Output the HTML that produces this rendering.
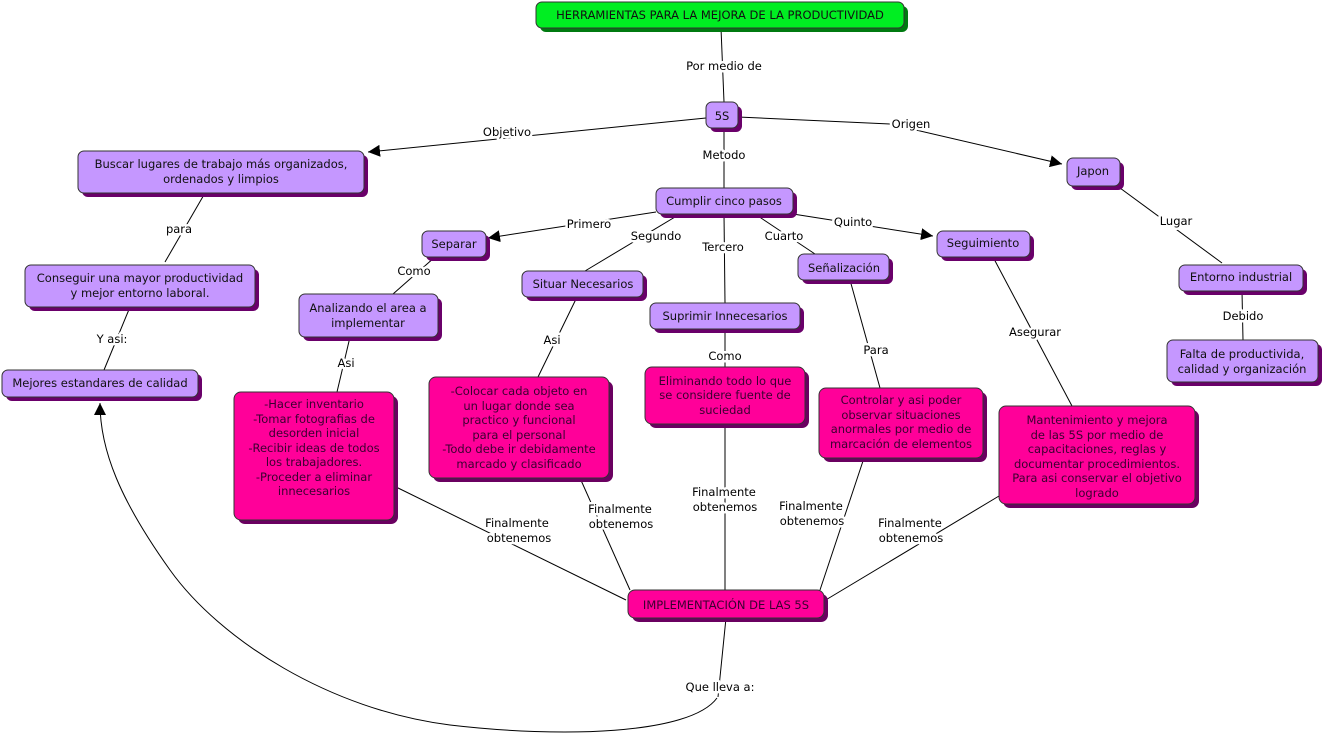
<!DOCTYPE html>
<html><head><meta charset="utf-8"><style>
html,body{margin:0;padding:0;background:#fff;}
svg{display:block;font-family:"DejaVu Sans","Liberation Sans",sans-serif;font-size:11.5px;}
.l{stroke:#000;stroke-width:1;fill:none;}
.t{fill:#000;text-anchor:middle;stroke:#fff;stroke-width:5px;paint-order:stroke;stroke-linejoin:round;}
.n{text-anchor:middle;fill:#111;}
.p{fill:#c597ff;stroke:#333;stroke-width:1;}
.ps{fill:#6a006a;}
.k{fill:#ff0099;stroke:#333;stroke-width:1;}
.ks{fill:#6a0060;}
.pk{text-anchor:middle;fill:#3a0030;}
</style></head><body>
<svg width="1325" height="735" viewBox="0 0 1325 735" xmlns="http://www.w3.org/2000/svg">
<defs><marker id="a" viewBox="0 0 10 10" refX="10" refY="5" markerWidth="12" markerHeight="12" markerUnits="userSpaceOnUse" orient="auto"><path d="M0,0 L10,5 L0,10 z" fill="#000"/></marker></defs>

<!-- connectors -->
<path class="l" d="M721 28 L724 102"/>
<path class="l" d="M706 118 L368 152" marker-end="url(#a)"/>
<path class="l" d="M738 117 L890 124 L1062 164" marker-end="url(#a)"/>
<path class="l" d="M724 128 L724 188"/>
<path class="l" d="M205 193 L165 262"/>
<path class="l" d="M130 307 L104 370"/>
<path class="l" d="M656 212 L488 238" marker-end="url(#a)"/>
<path class="l" d="M680 214 L585 271"/>
<path class="l" d="M724 214 L725 303"/>
<path class="l" d="M755 214 L815 254"/>
<path class="l" d="M793 214 L933 236" marker-end="url(#a)"/>
<path class="l" d="M1120 188 L1222 263"/>
<path class="l" d="M1242 291 L1243 340"/>
<path class="l" d="M435 257 L393 294"/>
<path class="l" d="M577 297 L538 377"/>
<path class="l" d="M350 337 L337 392"/>
<path class="l" d="M725 329 L725 367"/>
<path class="l" d="M850 280 L880 388"/>
<path class="l" d="M993 257 L1072 406"/>
<path class="l" d="M394 486 L626 600"/>
<path class="l" d="M580 478 L630 590"/>
<path class="l" d="M725 424 L725 590"/>
<path class="l" d="M864 458 L820 590"/>
<path class="l" d="M999 496 L824 601"/>
<path class="l" d="M726 618 L718 697"/>
<path class="l" d="M717 698 C690 735 560 738 450 725 C330 710 220 640 170 570 C120 500 100 450 100 403" marker-end="url(#a)"/>

<!-- link labels -->
<text class="t" x="724" y="70">Por medio de</text>
<text class="t" x="507" y="136">Objetivo</text>
<text class="t" x="911" y="128">Origen</text>
<text class="t" x="724" y="159">Metodo</text>
<text class="t" x="179" y="233">para</text>
<text class="t" x="112" y="343">Y asi:</text>
<text class="t" x="589" y="228">Primero</text>
<text class="t" x="656" y="240">Segundo</text>
<text class="t" x="723" y="251">Tercero</text>
<text class="t" x="784" y="240">Cuarto</text>
<text class="t" x="853" y="226">Quinto</text>
<text class="t" x="1176" y="225">Lugar</text>
<text class="t" x="1243" y="320">Debido</text>
<text class="t" x="414" y="275">Como</text>
<text class="t" x="552" y="344">Asi</text>
<text class="t" x="346" y="367">Asi</text>
<text class="t" x="725" y="360">Como</text>
<text class="t" x="876" y="354">Para</text>
<text class="t" x="1035" y="336">Asegurar</text>
<text class="t" x="517" y="527">Finalmente</text><text class="t" x="519" y="542">obtenemos</text>
<text class="t" x="620" y="513">Finalmente</text><text class="t" x="621" y="528">obtenemos</text>
<text class="t" x="724" y="496">Finalmente</text><text class="t" x="725" y="511">obtenemos</text>
<text class="t" x="811" y="510">Finalmente</text><text class="t" x="812" y="525">obtenemos</text>
<text class="t" x="910" y="527">Finalmente</text><text class="t" x="911" y="542">obtenemos</text>
<text class="t" x="720" y="691">Que lleva a:</text>

<!-- nodes -->
<rect x="540" y="6" width="368" height="26" rx="6" fill="#007a10"/>
<rect x="536" y="2" width="368" height="26" rx="6" fill="#00ee22" stroke="#333"/>
<text class="n" x="720" y="19">HERRAMIENTAS PARA LA MEJORA DE LA PRODUCTIVIDAD</text>

<g>
<rect class="ps" x="710" y="106" width="32" height="26" rx="6"/><rect class="p" x="706" y="102" width="32" height="26" rx="6"/>
<text class="n" x="722" y="120">5S</text>

<rect class="ps" x="82" y="155" width="286" height="42" rx="6"/><rect class="p" x="78" y="151" width="286" height="42" rx="6"/>
<text class="n" x="221" y="168">Buscar lugares de trabajo más organizados,</text><text class="n" x="221" y="183">ordenados y limpios</text>

<rect class="ps" x="1071" y="162" width="53" height="28" rx="6"/><rect class="p" x="1067" y="158" width="53" height="28" rx="6"/>
<text class="n" x="1093" y="175">Japon</text>

<rect class="ps" x="660" y="192" width="137" height="26" rx="6"/><rect class="p" x="656" y="188" width="137" height="26" rx="6"/>
<text class="n" x="724" y="205">Cumplir cinco pasos</text>

<rect class="ps" x="426" y="235" width="64" height="26" rx="6"/><rect class="p" x="422" y="231" width="64" height="26" rx="6"/>
<text class="n" x="454" y="248">Separar</text>

<rect class="ps" x="941" y="235" width="93" height="26" rx="6"/><rect class="p" x="937" y="231" width="93" height="26" rx="6"/>
<text class="n" x="983" y="247">Seguimiento</text>

<rect class="ps" x="802" y="258" width="91" height="26" rx="6"/><rect class="p" x="798" y="254" width="91" height="26" rx="6"/>
<text class="n" x="844" y="272">Señalización</text>

<rect class="ps" x="526" y="275" width="121" height="26" rx="6"/><rect class="p" x="522" y="271" width="121" height="26" rx="6"/>
<text class="n" x="583" y="288">Situar Necesarios</text>

<rect class="ps" x="29" y="269" width="230" height="42" rx="6"/><rect class="p" x="25" y="265" width="230" height="42" rx="6"/>
<text class="n" x="140" y="282">Conseguir una mayor productividad</text><text class="n" x="140" y="297">y mejor entorno laboral.</text>

<rect class="ps" x="1183" y="269" width="124" height="26" rx="6"/><rect class="p" x="1179" y="265" width="124" height="26" rx="6"/>
<text class="n" x="1241" y="281">Entorno industrial</text>

<rect class="ps" x="303" y="298" width="139" height="43" rx="6"/><rect class="p" x="299" y="294" width="139" height="43" rx="6"/>
<text class="n" x="368" y="312">Analizando el area a</text><text class="n" x="368" y="327">implementar</text>

<rect class="ps" x="654" y="307" width="150" height="26" rx="6"/><rect class="p" x="650" y="303" width="150" height="26" rx="6"/>
<text class="n" x="725" y="320">Suprimir Innecesarios</text>

<rect class="ps" x="1171" y="344" width="151" height="42" rx="6"/><rect class="p" x="1167" y="340" width="151" height="42" rx="6"/>
<text class="n" x="1242" y="358">Falta de productivida,</text><text class="n" x="1242" y="373">calidad y organización</text>

<rect class="ps" x="6" y="374" width="196" height="27" rx="6"/><rect class="p" x="2" y="370" width="196" height="27" rx="6"/>
<text class="n" x="100" y="387">Mejores estandares de calidad</text>
</g>

<g>
<rect class="ks" x="238" y="396" width="160" height="128" rx="7"/><rect class="k" x="234" y="392" width="160" height="128" rx="7"/>
<text class="pk" x="314" y="408">-Hacer inventario</text>
<text class="pk" x="314" y="423">-Tomar fotografias de</text>
<text class="pk" x="314" y="437">desorden  inicial</text>
<text class="pk" x="314" y="452">-Recibir ideas de todos</text>
<text class="pk" x="314" y="466">los trabajadores.</text>
<text class="pk" x="314" y="481">-Proceder a eliminar</text>
<text class="pk" x="314" y="495">innecesarios</text>

<rect class="ks" x="433" y="381" width="180" height="101" rx="7"/><rect class="k" x="429" y="377" width="180" height="101" rx="7"/>
<text class="pk" x="519" y="395">-Colocar cada objeto en</text>
<text class="pk" x="519" y="410">un lugar donde sea</text>
<text class="pk" x="519" y="424">practico y funcional</text>
<text class="pk" x="519" y="439">para el personal</text>
<text class="pk" x="519" y="453">-Todo debe ir debidamente</text>
<text class="pk" x="519" y="468">marcado y clasificado</text>

<rect class="ks" x="649" y="371" width="160" height="57" rx="7"/><rect class="k" x="645" y="367" width="160" height="57" rx="7"/>
<text class="pk" x="725" y="385">Eliminando todo lo que</text>
<text class="pk" x="725" y="399">se considere fuente de</text>
<text class="pk" x="725" y="414">suciedad</text>

<rect class="ks" x="823" y="392" width="164" height="70" rx="7"/><rect class="k" x="819" y="388" width="164" height="70" rx="7"/>
<text class="pk" x="901" y="404">Controlar y asi poder</text>
<text class="pk" x="901" y="419">observar situaciones</text>
<text class="pk" x="901" y="433">anormales por medio de</text>
<text class="pk" x="901" y="448">marcación de elementos</text>

<rect class="ks" x="1003" y="410" width="196" height="98" rx="7"/><rect class="k" x="999" y="406" width="196" height="98" rx="7"/>
<text class="pk" x="1097" y="424">Mantenimiento y mejora</text>
<text class="pk" x="1097" y="439">de las 5S por medio de</text>
<text class="pk" x="1097" y="453">capacitaciones, reglas y</text>
<text class="pk" x="1097" y="468">documentar procedimientos.</text>
<text class="pk" x="1097" y="482">Para asi conservar el objetivo</text>
<text class="pk" x="1097" y="497">logrado</text>

<rect class="ks" x="632" y="594" width="196" height="28" rx="7"/><rect class="k" x="628" y="590" width="196" height="28" rx="7"/>
<text class="pk" x="726" y="609">IMPLEMENTACIÓN DE LAS 5S</text>
</g>
</svg>
</body></html>
